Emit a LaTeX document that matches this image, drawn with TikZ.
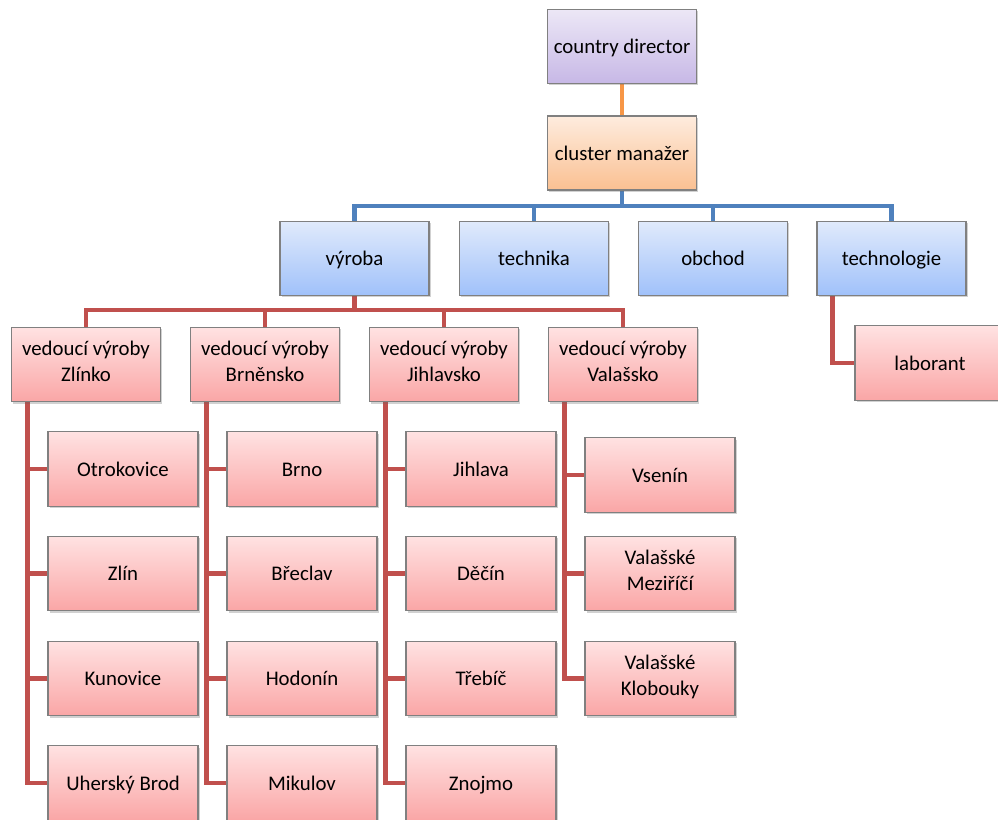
\documentclass[tikz,border=0pt]{standalone}
\usepackage{fontspec}
\setmainfont{Carlito}
\usetikzlibrary{shadows, backgrounds}

\definecolor{purpleT}{RGB}{236,231,246}
\definecolor{purpleB}{RGB}{199,184,230}
\definecolor{orangeT}{RGB}{254,236,222}
\definecolor{orangeB}{RGB}{250,192,146}
\definecolor{blueT}{RGB}{224,234,251}
\definecolor{blueB}{RGB}{160,193,250}
\definecolor{redT}{RGB}{255,226,226}
\definecolor{redB}{RGB}{250,166,166}
\definecolor{lineO}{RGB}{247,150,70}
\definecolor{lineB}{RGB}{79,129,189}
\definecolor{lineR}{RGB}{192,80,77}
\newcommand{\bxstrut}{\rule[-4.3pt]{0pt}{19.5pt}}

\begin{document}
\begin{tikzpicture}[
  x=0.75pt, y=-0.75pt,
  font=\fontsize{15.6}{19.5}\selectfont,
  box/.style={draw=black!50, line width=0.8pt, minimum width=111.75pt, minimum height=55.5pt, align=center, inner sep=2pt,
    execute at begin node=\bxstrut, execute at end node=\bxstrut,
    drop shadow={shadow xshift=1.2pt, shadow yshift=-1.4pt, opacity=0.3, fill=black!60}},
  dirbox/.style={box, top color=purpleT, bottom color=purpleB},
  mgrbox/.style={box, top color=orangeT, bottom color=orangeB},
  deptbox/.style={box, top color=blueT, bottom color=blueB},
  unitbox/.style={box, top color=redT, bottom color=redB, minimum width=112.5pt, minimum height=56pt},
  lo/.style={line width=3.4pt, draw=lineO},
  lb/.style={line width=3.4pt, draw=lineB},
  lr/.style={line width=3.4pt, draw=lineR}
]
\useasboundingbox (0,0) rectangle (998,819);
% top
\node[dirbox] (cd) at (622,46.5) {country director};
\node[mgrbox] (cm) at (622,153) {cluster manažer};
% departments
\node[deptbox] (vyr) at (354.5,258.5) {výroba};
\node[deptbox] (tec) at (534,258.5) {technika};
\node[deptbox] (obc) at (713,258.5) {obchod};
\node[deptbox] (tgl) at (891.5,258.5) {technologie};
\node[unitbox] (lab) at (930,363) {laborant};
% production heads
\node[unitbox, minimum width=111.75pt] (vz) at (86,364.5) {vedoucí výroby\\Zlínko};
\node[unitbox, minimum width=111.75pt] (vb) at (265,364.5) {vedoucí výroby\\Brněnsko};
\node[unitbox, minimum width=111.75pt] (vj) at (444,364.5) {vedoucí výroby\\Jihlavsko};
\node[unitbox, minimum width=111.75pt] (vv) at (623,364.5) {vedoucí výroby\\Valašsko};
% sites
\node[unitbox] (z1) at (123,469) {Otrokovice};
\node[unitbox] (z2) at (123,573.5) {Zlín};
\node[unitbox] (z3) at (123,678.5) {Kunovice};
\node[unitbox] (z4) at (123,783) {Uherský Brod};
\node[unitbox] (b1) at (302,469) {Brno};
\node[unitbox] (b2) at (302,573.5) {Břeclav};
\node[unitbox] (b3) at (302,678.5) {Hodonín};
\node[unitbox] (b4) at (302,783) {Mikulov};
\node[unitbox] (j1) at (481,469) {Jihlava};
\node[unitbox] (j2) at (481,573.5) {Děčín};
\node[unitbox] (j3) at (481,678.5) {Třebíč};
\node[unitbox] (j4) at (481,783) {Znojmo};
\node[unitbox] (w1) at (660,475) {Vsenín};
\node[unitbox] (w2) at (660,573.5) {Valašské\\Meziříčí};
\node[unitbox] (w3) at (660,678.5) {Valašské\\Klobouky};
% connectors
\coordinate (bb) at (0,206);
\coordinate (rb) at (0,310);
\begin{scope}[on background layer]
\draw[lo] (cd) -- (cm);
\foreach \n in {vyr, tec, obc, tgl}{\draw[lb] (cm.south) -- (cm.south |- bb) -| (\n.north);}
\foreach \n in {vz, vb, vj, vv}{\draw[lr] (vyr.south) -- (vyr.south |- rb) -| (\n.north);}
\foreach \p/\c in {vz/z1, vz/z2, vz/z3, vz/z4, vb/b1, vb/b2, vb/b3, vb/b4, vj/j1, vj/j2, vj/j3, vj/j4, vv/w1, vv/w2, vv/w3, tgl/lab}{
  \draw[lr] ([xshift=12.2pt]\p.south west) |- (\c.west);}
\end{scope}
\end{tikzpicture}
\end{document}
